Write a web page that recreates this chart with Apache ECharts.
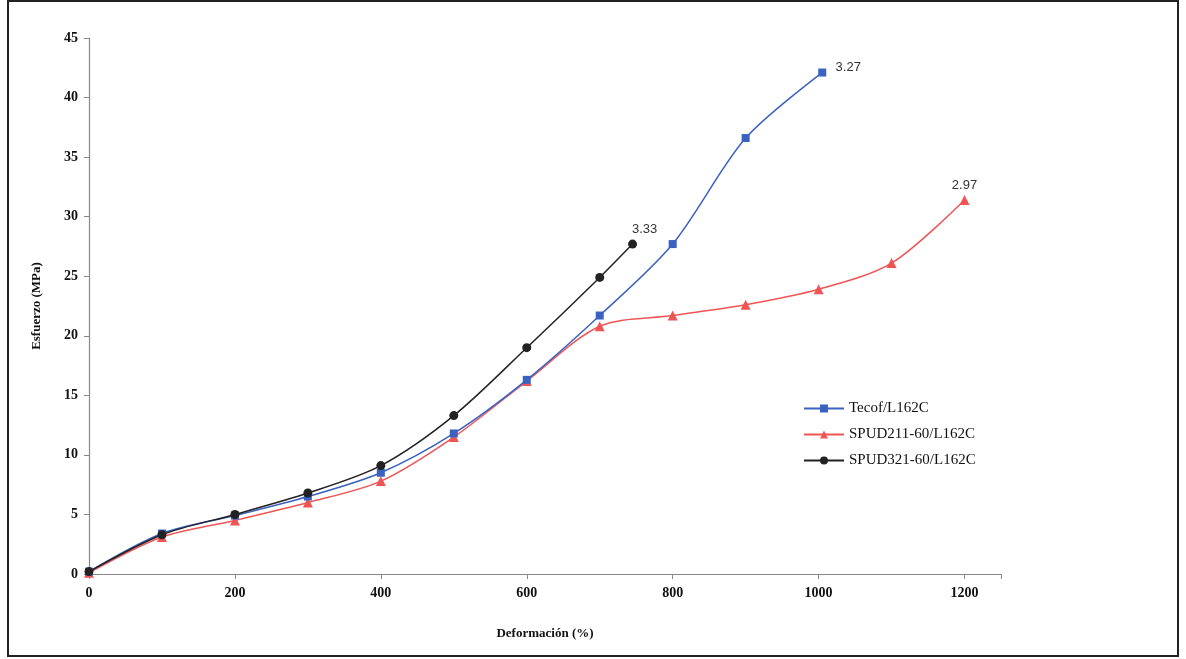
<!DOCTYPE html>
<html>
<head>
<meta charset="utf-8">
<script src="https://cdn.jsdelivr.net/npm/echarts@6/dist/echarts.min.js"></script>
<style>
html,body{margin:0;padding:0;background:#fff;}
#c{width:1186px;height:659px;}
</style>
</head>
<body>
<div id="c"></div>
<script>
// Data
var seriesNames = ['Tecof/L162C', 'SPUD211-60/L162C', 'SPUD321-60/L162C'];
var tecofX = [0, 100, 200, 300, 400, 500, 600, 700, 800, 900, 1005];
var tecofY = [0.2, 3.4, 4.9, 6.5, 8.5, 11.8, 16.3, 21.7, 27.7, 36.6, 42.1];
var spud211X = [0, 100, 200, 300, 400, 500, 600, 700, 800, 900, 1000, 1100, 1200];
var spud211Y = [0.1, 3.1, 4.5, 6.0, 7.8, 11.5, 16.2, 20.8, 21.7, 22.6, 23.9, 26.1, 31.4];
var spud321X = [0, 100, 200, 300, 400, 500, 600, 700, 745];
var spud321Y = [0.2, 3.3, 5.0, 6.8, 9.1, 13.3, 19.0, 24.9, 27.7];
var endLabels = ['3.27', '2.97', '3.33'];
var xTicks = [0, 200, 400, 600, 800, 1000, 1200];
var yTicks = [0, 5, 10, 15, 20, 25, 30, 35, 40, 45];

function pairs(xs, ys) { return xs.map(function (x, i) { return [x, ys[i]]; }); }

var colors = ['#3a62c0', '#f05555', '#222222'];
var symbols = ['rect', 'triangle', 'circle'];
var sizes = [8, 10, 9];
var datasets = [pairs(tecofX, tecofY), pairs(spud211X, spud211Y), pairs(spud321X, spud321Y)];
var labelPos = [[26, -5], [0, -15], [12, -15]];

var chart = echarts.init(document.getElementById('c'));
var serif = '"Liberation Serif", "DejaVu Serif", serif';

var series = datasets.map(function (d, i) {
  var data = d.map(function (p, j) {
    var o = { value: p };
    if (j === d.length - 1) {
      o.label = {
        show: true,
        formatter: endLabels[i],
        position: 'inside',
        offset: labelPos[i],
        color: '#333',
        fontFamily: '"Liberation Sans", Arial, sans-serif',
        fontSize: 13
      };
    }
    return o;
  });
  return {
    name: seriesNames[i],
    type: 'line',
    data: data,
    smooth: 0.3,
    symbol: symbols[i],
    symbolSize: sizes[i],
    lineStyle: { color: colors[i], width: 1.5 },
    itemStyle: { color: colors[i] },
    emphasis: { disabled: true },
    z: i === 2 ? 3 : (i === 0 ? 2 : 1)
  };
});

chart.setOption({
  animation: false,
  backgroundColor: '#fff',
  grid: { left: 89, right: 185, top: 38, bottom: 85 },
  legend: {
    orient: 'vertical',
    left: 798,
    top: 396,
    itemGap: 11,
    itemWidth: 40,
    itemHeight: 10,
    textStyle: { fontFamily: serif, fontSize: 15, color: '#111' },
    data: seriesNames
  },
  xAxis: {
    type: 'value',
    min: 0,
    max: 1250,
    interval: 200,
    name: 'Deformación (%)',
    nameLocation: 'middle',
    nameGap: 53,
    nameTextStyle: { fontFamily: serif, fontSize: 13, fontWeight: 'bold', color: '#111' },
    axisLine: { show: true, lineStyle: { color: '#888', width: 1.2 } },
    axisTick: { show: true, length: 5, lineStyle: { color: '#888' } },
    axisLabel: {
      fontFamily: serif, fontSize: 14, fontWeight: 'bold', color: '#111', margin: 12,
      formatter: function (v) { return xTicks.indexOf(v) >= 0 ? String(v) : ''; }
    },
    splitLine: { show: false }
  },
  yAxis: {
    type: 'value',
    min: 0,
    max: 45,
    interval: 5,
    name: 'Esfuerzo (MPa)',
    nameLocation: 'middle',
    nameGap: 46,
    nameRotate: 90,
    nameTextStyle: { fontFamily: serif, fontSize: 13, fontWeight: 'bold', color: '#111' },
    axisLine: { show: true, lineStyle: { color: '#888', width: 1.2 } },
    axisTick: { show: true, length: 5, lineStyle: { color: '#888' } },
    axisLabel: {
      fontFamily: serif, fontSize: 14, fontWeight: 'bold', color: '#111', margin: 11,
      formatter: function (v) { return yTicks.indexOf(v) >= 0 ? String(v) : ''; }
    },
    splitLine: { show: false }
  },
  graphic: [
    {
      type: 'rect',
      shape: { x: 8, y: 1, width: 1170, height: 655 },
      style: { fill: 'none', stroke: '#222', lineWidth: 2 },
      silent: true
    }
  ],
  series: series
});
</script>
</body>
</html>
